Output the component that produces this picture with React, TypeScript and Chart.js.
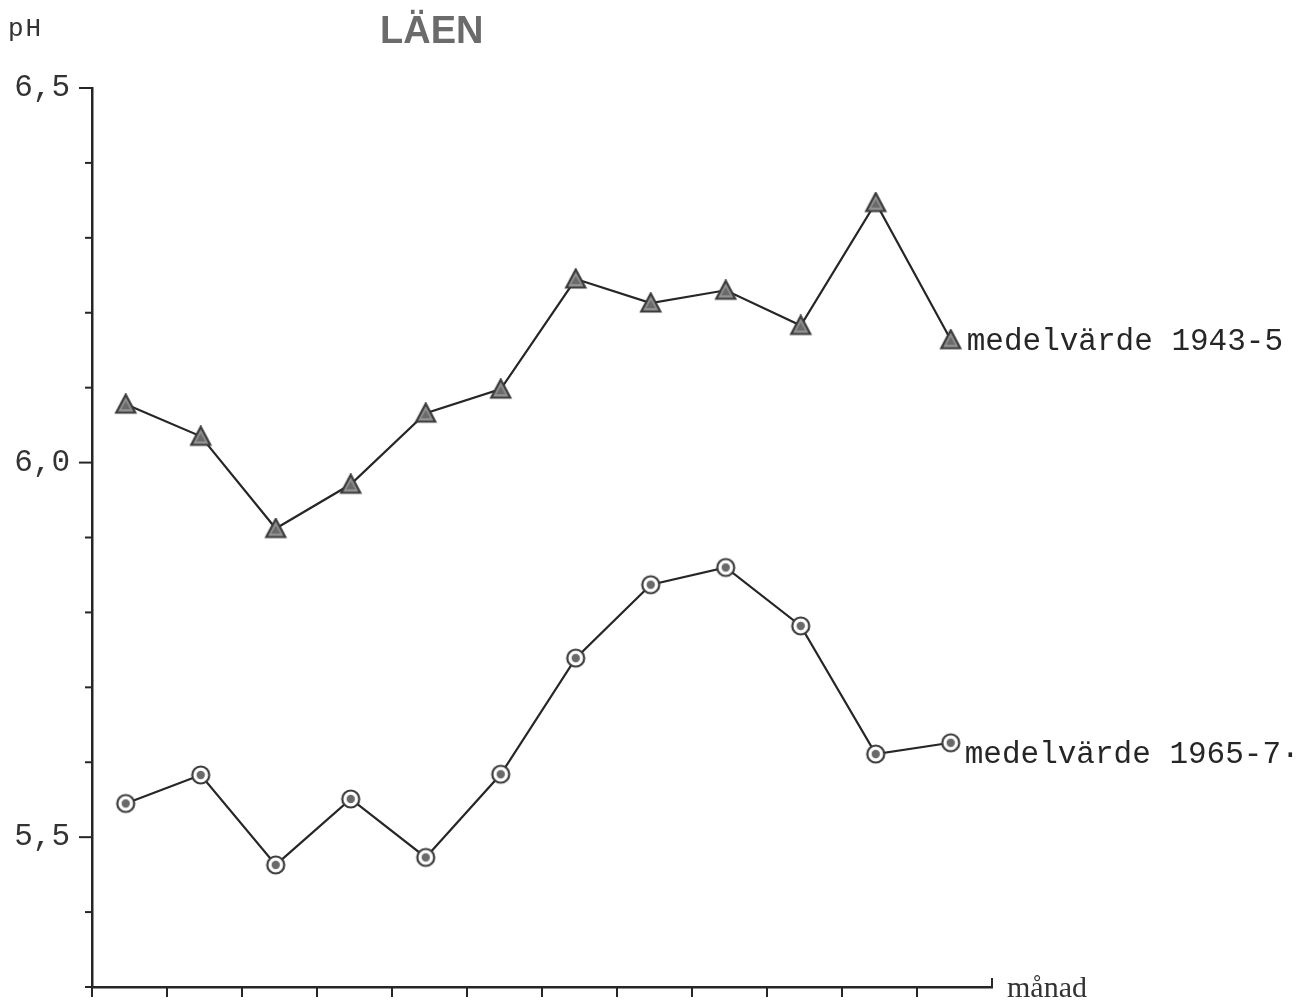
import React, { useEffect, useRef } from "react";
import { Chart, registerables } from "chart.js";

Chart.register(...registerables);

// ---- data ----
const MONTHS = [1, 2, 3, 4, 5, 6, 7, 8, 9, 10, 11, 12];
const PH_1943_5 = [6.078, 6.035, 5.912, 5.971, 6.066, 6.098, 6.245, 6.213, 6.23, 6.183, 6.347, 6.164];
const PH_1965_7 = [5.545, 5.583, 5.463, 5.551, 5.473, 5.584, 5.739, 5.837, 5.86, 5.782, 5.611, 5.626];
const SERIES_LABELS = ["medelvärde 1943-5", "medelvärde 1965-7·"];
const Y_MIN = 5.3;
const Y_MAX = 6.5;
const Y_STEP = 0.1;
const X_MIN = 0;
const X_MAX = 12;
const TITLE = "LÄEN";
const Y_TITLE = "pH";
const X_TITLE = "månad";

const INK = "#262626";
const MONO = "'Liberation Mono', 'DejaVu Sans Mono', monospace";

function makeTriangle(): HTMLCanvasElement {
  const c = document.createElement("canvas");
  c.width = 24;
  c.height = 22;
  const ctx = c.getContext("2d")!;
  ctx.beginPath();
  ctx.moveTo(12, 1.5);
  ctx.lineTo(2.5, 19.5);
  ctx.lineTo(21.5, 19.5);
  ctx.closePath();
  ctx.fillStyle = "#929292";
  ctx.fill();
  ctx.lineWidth = 2.2;
  ctx.strokeStyle = "#3a3a3a";
  ctx.stroke();
  ctx.beginPath();
  ctx.moveTo(12, 8);
  ctx.lineTo(7.5, 16);
  ctx.lineTo(16.5, 16);
  ctx.closePath();
  ctx.fillStyle = "#6a6a6a";
  ctx.fill();
  return c;
}

function makeRing(): HTMLCanvasElement {
  const c = document.createElement("canvas");
  c.width = 24;
  c.height = 24;
  const ctx = c.getContext("2d")!;
  ctx.beginPath();
  ctx.arc(12, 12, 8.5, 0, Math.PI * 2);
  ctx.fillStyle = "#ffffff";
  ctx.fill();
  ctx.lineWidth = 2.2;
  ctx.strokeStyle = "#3a3a3a";
  ctx.stroke();
  ctx.beginPath();
  ctx.arc(12, 12, 4.2, 0, Math.PI * 2);
  ctx.fillStyle = "#6a6a6a";
  ctx.fill();
  return c;
}

const LABEL_STYLE = [
  { dx: 16, dy: 2 },
  { dx: 14, dy: 12 },
];

const tickPlugin = {
  id: "handTicks",
  afterDraw(chart: any) {
    const ctx = chart.ctx;
    const ys = chart.scales.y;
    const xs = chart.scales.x;
    const area = chart.chartArea;
    ctx.save();
    ctx.strokeStyle = INK;
    ctx.lineWidth = 2;
    ys.ticks.forEach((t: any) => {
      const y = ys.getPixelForValue(t.value);
      const major = Math.round(t.value * 10) % 5 === 0;
      const len = major ? 13 : 7;
      ctx.beginPath();
      ctx.moveTo(area.left - len, y);
      ctx.lineTo(area.left, y);
      ctx.stroke();
    });
    xs.ticks.forEach((t: any) => {
      const x = xs.getPixelForValue(t.value);
      ctx.beginPath();
      if (t.value === X_MAX) {
        ctx.moveTo(x, area.bottom);
        ctx.lineTo(x, area.bottom - 9);
      } else {
        ctx.moveTo(x, area.bottom);
        ctx.lineTo(x, area.bottom + 10);
      }
      ctx.stroke();
    });
    // series labels next to the last point
    ctx.fillStyle = INK;
    ctx.font = `31px ${MONO}`;
    ctx.textBaseline = "middle";
    ctx.textAlign = "left";
    chart.data.datasets.forEach((ds: any, i: number) => {
      const meta = chart.getDatasetMeta(i);
      const last = meta.data[meta.data.length - 1];
      if (!last) return;
      ctx.fillText(SERIES_LABELS[i], last.x + LABEL_STYLE[i].dx, last.y + LABEL_STYLE[i].dy);
    });
    ctx.restore();
  },
};

export default function App() {
  const ref = useRef<HTMLCanvasElement>(null);

  useEffect(() => {
    document.body.style.margin = "0";
    document.body.style.overflow = "hidden";
    const canvas = ref.current!;
    const tri = makeTriangle();
    const ring = makeRing();
    const chart = new Chart(canvas, {
      type: "line",
      data: {
        datasets: [
          {
            data: MONTHS.map((m, i) => ({ x: m - 0.55, y: PH_1943_5[i] })),
            borderColor: INK,
            borderWidth: 2.2,
            pointStyle: tri as any,
            pointRadius: 11,
            tension: 0,
          },
          {
            data: MONTHS.map((m, i) => ({ x: m - 0.55, y: PH_1965_7[i] })),
            borderColor: INK,
            borderWidth: 2.2,
            pointStyle: ring as any,
            pointRadius: 11,
            tension: 0,
          },
        ],
      },
      options: {
        responsive: false,
        animation: false,
        events: [],
        layout: { padding: { left: 0, top: 88, right: 317, bottom: 0 } },
        plugins: {
          legend: { display: false },
          tooltip: { enabled: false },
          title: { display: false },
        },
        scales: {
          x: {
            type: "linear",
            min: X_MIN,
            max: X_MAX,
            grid: { display: false, drawTicks: false },
            border: { display: true, color: INK, width: 2.5 },
            ticks: { display: false, stepSize: 1 },
            afterFit: (s: any) => {
              s.height = 16;
              s.paddingLeft = 0;
              s.paddingRight = 0;
            },
          },
          y: {
            type: "linear",
            min: Y_MIN,
            max: Y_MAX,
            grid: { display: false, drawTicks: false },
            border: { display: true, color: INK, width: 2.5 },
            ticks: {
              stepSize: Y_STEP,
              autoSkip: false,
              padding: 22,
              color: "#333333",
              font: { family: MONO, size: 31 },
              callback: (v: any) => {
                const n = Number(v);
                return Math.round(n * 10) % 5 === 0 ? n.toFixed(1).replace(".", ",") : "";
              },
            },
            afterFit: (s: any) => {
              s.width = 92;
              s.paddingTop = 0;
              s.paddingBottom = 0;
            },
          },
        },
      },
      plugins: [tickPlugin],
    });
    return () => chart.destroy();
  }, []);

  return (
    <div style={{ position: "relative", width: 1309, height: 1003, background: "#fff" }}>
      <canvas ref={ref} width={1309} height={1003} style={{ display: "block" }} />
      <div
        style={{
          position: "absolute",
          left: 8,
          top: 16,
          fontFamily: MONO,
          fontSize: 26,
          lineHeight: 1,
          letterSpacing: 2,
          color: "#333",
        }}
      >
        {Y_TITLE}
      </div>
      <div
        style={{
          position: "absolute",
          left: 380,
          top: 11,
          fontFamily: "'Liberation Sans', Arial, sans-serif",
          fontWeight: "bold",
          fontSize: 38,
          lineHeight: 1,
          color: "#6b6b6b",
        }}
      >
        {TITLE}
      </div>
      <div
        style={{
          position: "absolute",
          left: 1007,
          top: 972,
          fontFamily: "'Liberation Serif', serif",
          fontSize: 30,
          lineHeight: 1,
          color: "#333",
        }}
      >
        {X_TITLE}
      </div>
    </div>
  );
}
